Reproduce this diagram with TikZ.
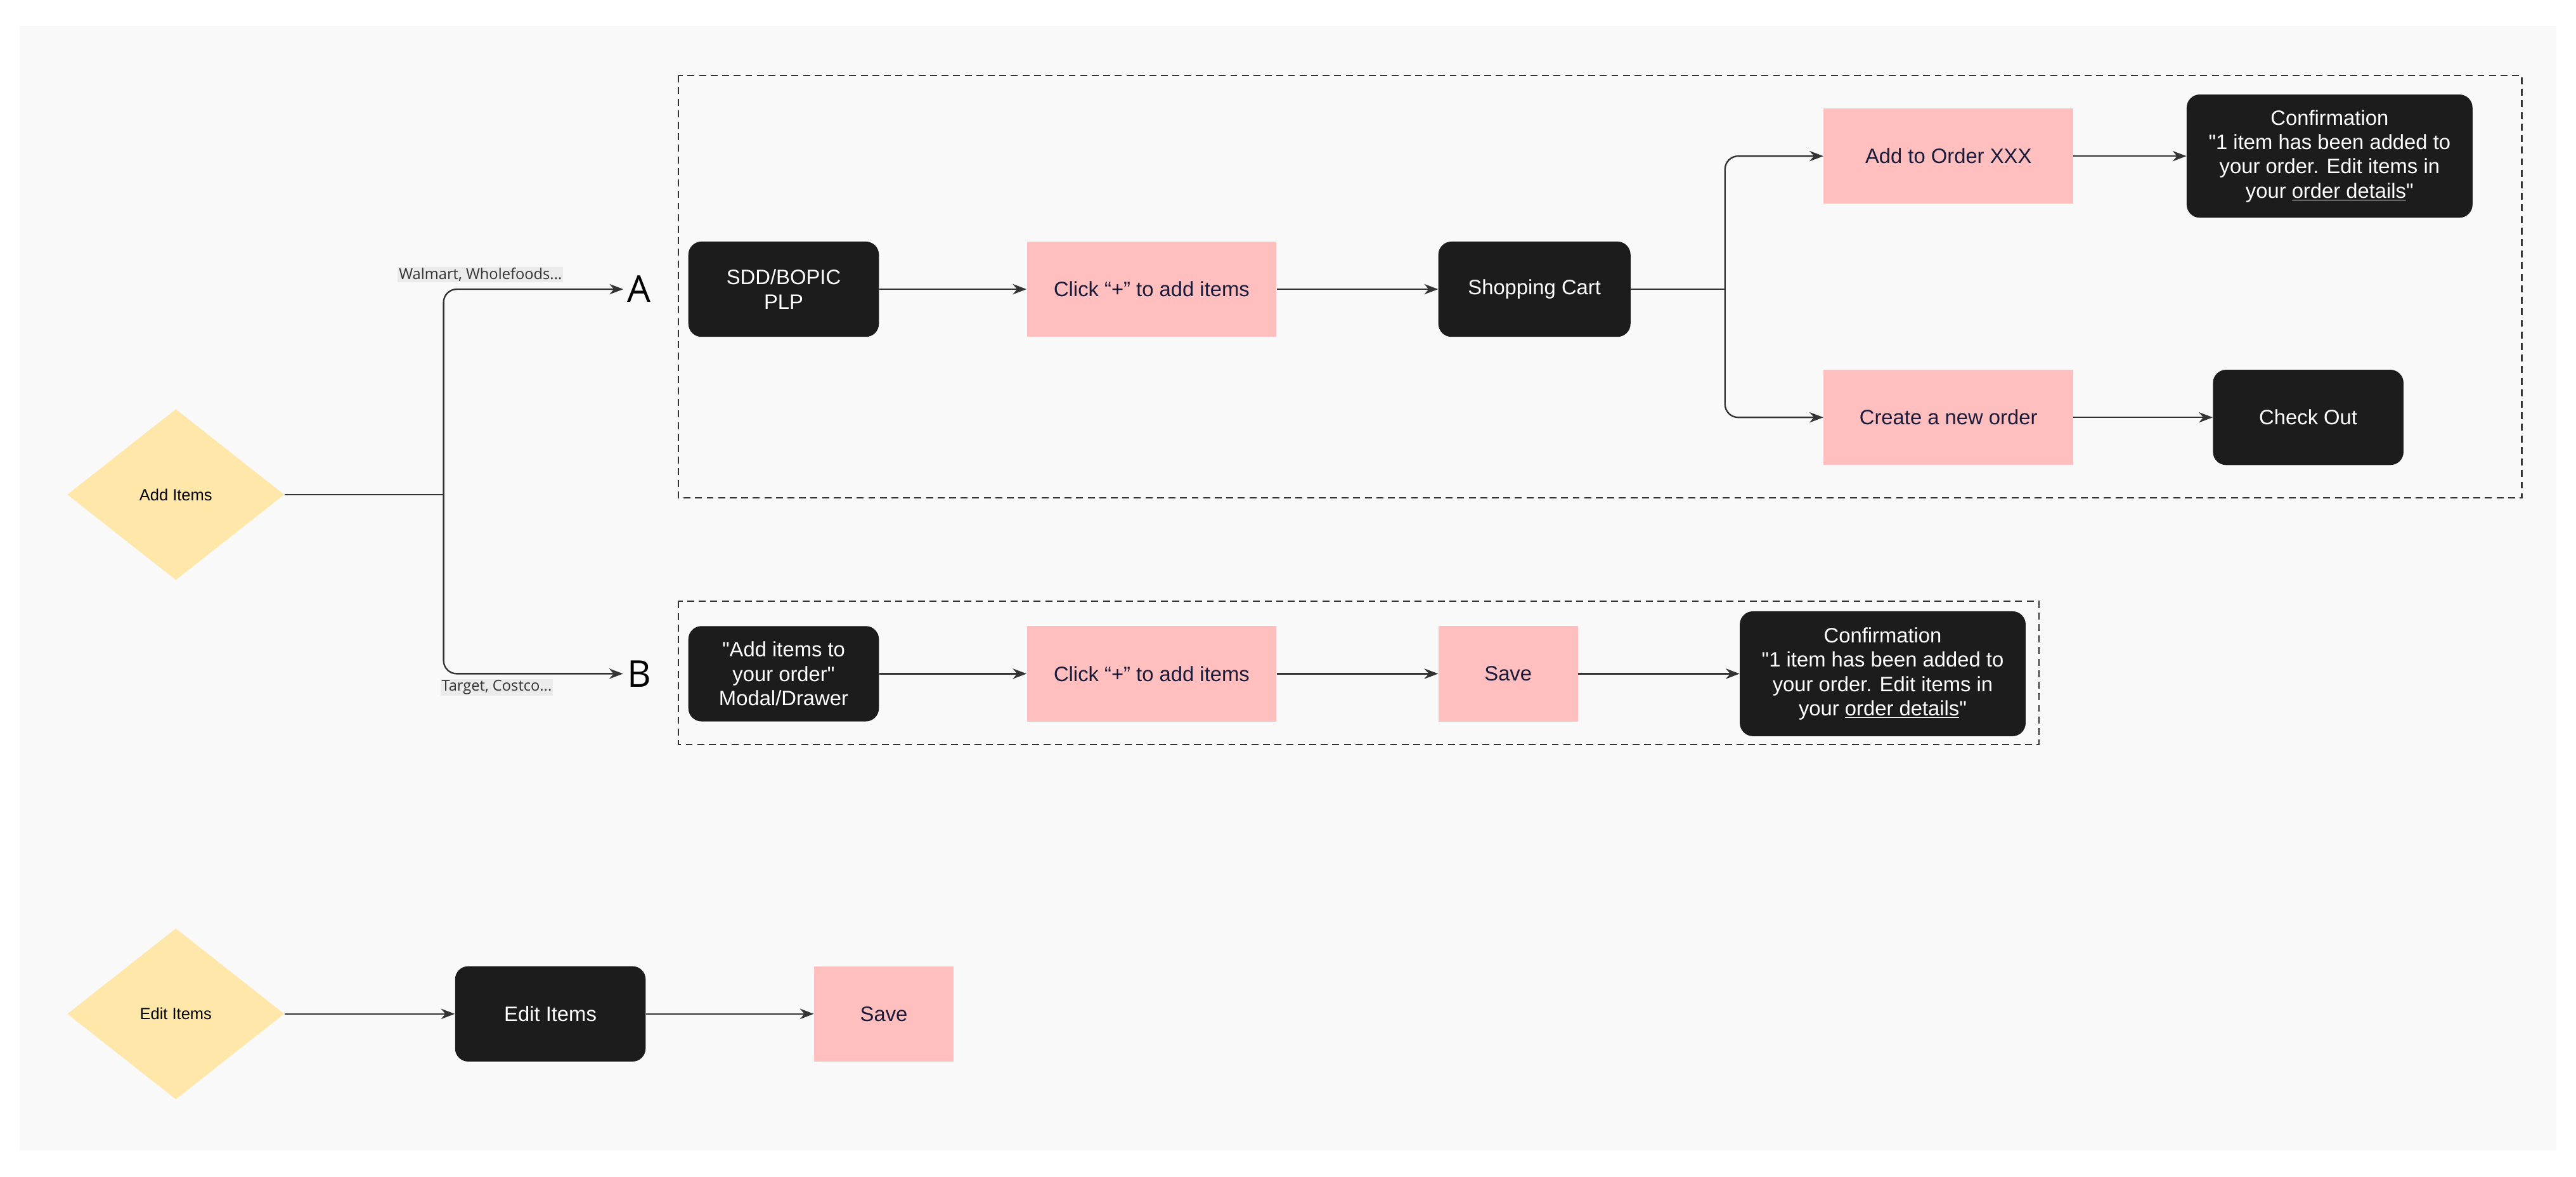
\documentclass[tikz,border=0pt]{standalone}
\usepackage{fontspec}
\setmainfont{Liberation Sans}
\newfontfamily\lblfont{Open Sans}
\usetikzlibrary{shapes.geometric,arrows.meta}
\definecolor{bgc}{HTML}{F9F9F9}
\definecolor{pinkc}{HTML}{FFBFBF}
\definecolor{dia}{HTML}{FFE7A9}
\definecolor{blk}{HTML}{1C1C1C}
\definecolor{lnc}{HTML}{333333}
\definecolor{navy}{HTML}{1A1A3A}
\newcommand{\qq}{\textquotedbl}
\begin{document}
\begin{tikzpicture}[x=0.05cm,y=-0.05cm,
  dark/.style={fill=blk,draw=none,rounded corners=0.4cm,text=white,align=center,font=\fontsize{18}{21}\selectfont,inner sep=0pt},
  pink/.style={fill=pinkc,draw=none,text=navy,align=center,font=\fontsize{18}{21}\selectfont,inner sep=0pt},
  dmd/.style={diamond,fill=dia,draw=none,minimum width=6.6cm,minimum height=5.2cm,inner sep=0pt,font=\fontsize{14}{16}\selectfont},
  arr/.style={draw=lnc,line width=1.3pt,-{Stealth[length=12pt,width=9pt]}},
  ln/.style={draw=lnc,line width=1.3pt},
  box/.style={draw=lnc,line width=1.2pt,dash pattern=on 6pt off 4pt},
  lbl/.style={fill=black!8,inner sep=1pt,font=\lblfont\fontsize{13}{15}\selectfont,text=black!80},
  big/.style={font=\lblfont\fontsize{32}{36}\selectfont}]
\useasboundingbox (0,0) rectangle (1568,716);
\fill[white] (0,0) rectangle (1568,716);
\fill[bgc] (12,16) rectangle (1556,700);
\draw[box] (413,46) rectangle (1535,303);
\draw[box] (413,366) rectangle (1241,453);
% diamonds
\node[dmd] (add) at (107,301) {Add Items};
\node[dmd] (edit) at (107,617) {Edit Items};
% A/B
\node[big] (A) at (389,176) {A};
\node[big] (B) at (389,410) {B};
\coordinate (sp) at (270,301);
\node[lbl,anchor=south west] at (242,172) {Walmart, Wholefoods...};
\node[lbl,anchor=north west] at (268,413) {Target, Costco...};
\draw[ln] (add.east) -- (sp);
\draw[arr,rounded corners=0.4cm] (sp) |- (A.west);
\draw[arr,rounded corners=0.4cm] (sp) |- (B.west);
% row A
\node[dark,minimum width=5.8cm,minimum height=2.9cm] (sdd) at (477,176) {SDD/BOPIC\\PLP};
\node[pink,minimum width=7.6cm,minimum height=2.9cm] (clickA) at (701,176) {Click “+” to add items};
\node[dark,minimum width=5.85cm,minimum height=2.9cm] (cart) at (934,176) {Shopping Cart};
\node[pink,minimum width=7.6cm,minimum height=2.9cm] (addo) at (1186,95) {Add to Order XXX};
\node[pink,minimum width=7.6cm,minimum height=2.9cm] (neworder) at (1186,254) {Create a new order};
\node[dark,minimum width=8.7cm,minimum height=3.75cm] (confA) at (1418,95) {Confirmation\\\qq1 item has been added to\\your order. Edit items in\\your \underline{order details}\qq};
\node[dark,minimum width=5.8cm,minimum height=2.9cm] (co) at (1405,254) {Check Out};
\coordinate (sp2) at (1050,176);
\draw[arr] (sdd) -- (clickA);
\draw[arr] (clickA) -- (cart);
\draw[ln] (cart.east) -- (sp2);
\draw[arr,rounded corners=0.4cm] (sp2) |- (addo.west);
\draw[arr,rounded corners=0.4cm] (sp2) |- (neworder.west);
\draw[arr] (addo) -- (confA);
\draw[arr] (neworder) -- (co);
% row B
\node[dark,minimum width=5.8cm,minimum height=2.9cm] (modal) at (477,410) {\qq Add items to\\your order\qq\\Modal/Drawer};
\node[pink,minimum width=7.6cm,minimum height=2.9cm] (clickB) at (701,410) {Click “+” to add items};
\node[pink,minimum width=4.25cm,minimum height=2.9cm] (saveB) at (918,410) {Save};
\node[dark,minimum width=8.7cm,minimum height=3.8cm] (confB) at (1146,410) {Confirmation\\\qq1 item has been added to\\your order. Edit items in\\your \underline{order details}\qq};
\draw[arr] (modal) -- (clickB);
\draw[arr] (clickB) -- (saveB);
\draw[arr] (saveB) -- (confB);
% edit row
\node[dark,minimum width=5.8cm,minimum height=2.9cm] (editbox) at (335,617) {Edit Items};
\node[pink,minimum width=4.25cm,minimum height=2.9cm] (saveE) at (538,617) {Save};
\draw[arr] (edit.east) -- (editbox);
\draw[arr] (editbox) -- (saveE);
\end{tikzpicture}
\end{document}
